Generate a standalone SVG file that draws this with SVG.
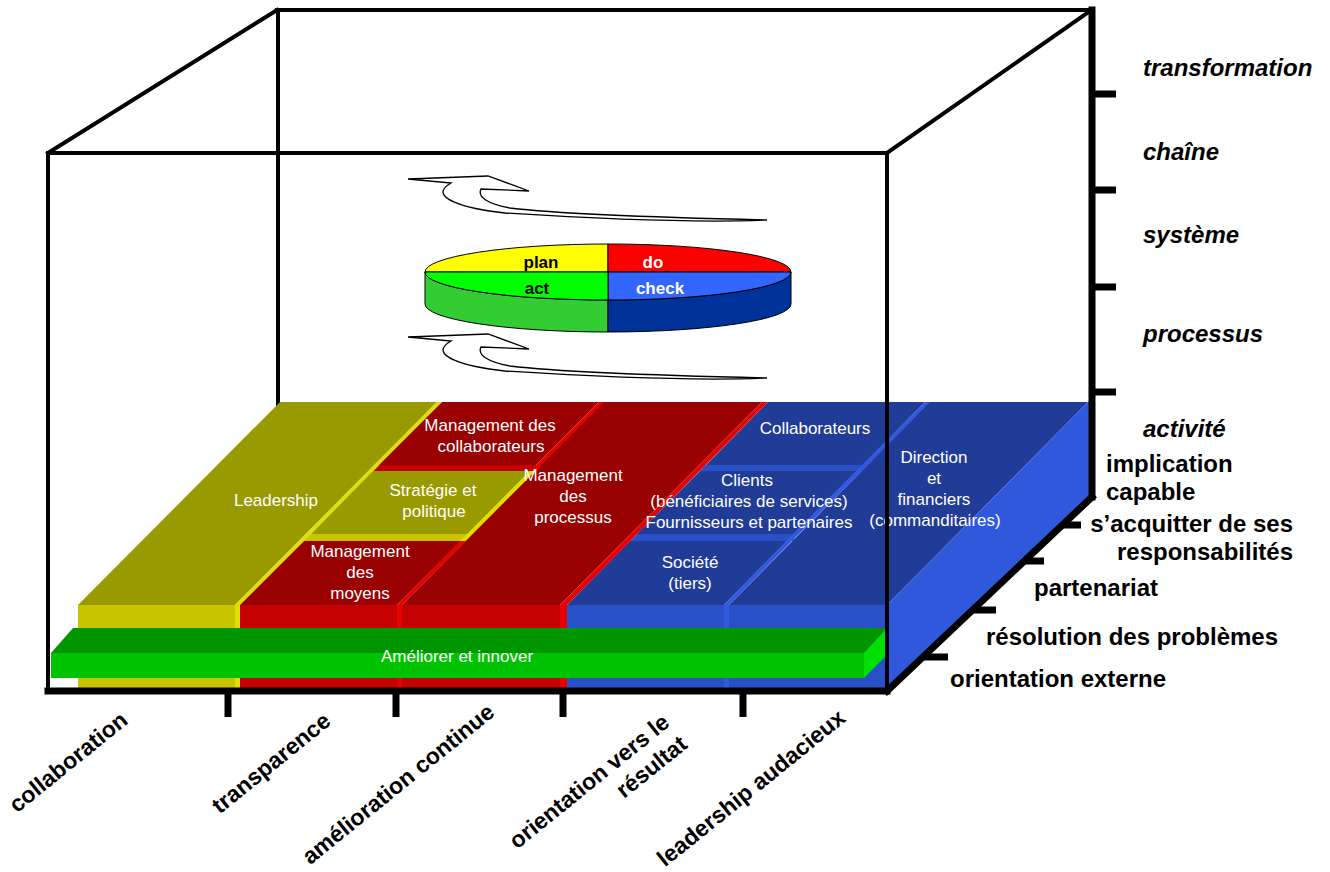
<svg xmlns="http://www.w3.org/2000/svg" width="1330" height="872" viewBox="0 0 1330 872">
<style>
.ln{stroke:#000;fill:none;stroke-linecap:square}
.ft{font-family:"Liberation Sans",Arial,sans-serif;font-size:17px;fill:#fff;text-anchor:middle}
.pt{font-family:"Liberation Sans",Arial,sans-serif;font-size:17px;font-weight:bold;text-anchor:middle}
.rl{font-family:"Liberation Sans",Arial,sans-serif;font-size:24px;font-weight:bold;fill:#000}
.it{font-style:italic}
.bl{font-family:"Liberation Sans",Arial,sans-serif;font-size:23px;font-weight:bold;fill:#000}
.oT{fill:#999900}.oF{fill:#C8C400}.oS{fill:#E0E000}
.rT{fill:#990000}.rF{fill:#C40000}.rS{fill:#E60000}
.bT{fill:#203C96}.bF{fill:#2A50C8}.bS{fill:#2F5BE0}
.sw{fill:#fff;stroke:#000;stroke-width:1.3}
.pie{stroke:#000;stroke-width:1}
</style>
<defs>
<path id="swirl" d="M408,179 L488,176 L529,191 L481,189 C477,197 488,204 510,208 C560,214 680,218 767,220 C700,223 600,219 505,213 C468,209 425,198 451,183 Z"/>
</defs>

<g id="box-back">
<line class="ln" x1="277" y1="10" x2="1092" y2="10" stroke-width="4"/>
<line class="ln" x1="278" y1="10" x2="278" y2="420" stroke-width="4"/>
<line class="ln" x1="48" y1="153" x2="277" y2="10" stroke-width="4"/>
<line class="ln" x1="887" y1="153" x2="1090" y2="11" stroke-width="4"/>
</g>

<g id="connectors">
<use href="#swirl" class="sw"/>
<use href="#swirl" class="sw" transform="translate(0,158)"/>
</g>

<g id="pdca">
<path class="pie" fill="#33CC33" d="M425,272 L425,304 A183,28 0 0 0 608,332 L608,300 A183,28 0 0 1 425,272 Z"/>
<path class="pie" fill="#003399" d="M791,272 L791,304 A183,28 0 0 1 608,332 L608,300 A183,28 0 0 0 791,272 Z"/>
<path class="pie" fill="#FFFF00" d="M608,272 L425,272 A183,28 0 0 1 608,244 Z"/>
<path class="pie" fill="#FF0000" d="M608,272 L608,244 A183,28 0 0 1 791,272 Z"/>
<path class="pie" fill="#3366FF" d="M608,272 L791,272 A183,28 0 0 1 608,300 Z"/>
<path class="pie" fill="#00FF00" d="M608,272 L608,300 A183,28 0 0 1 425,272 Z"/>
<text class="pt" x="541" y="268" fill="#000">plan</text>
<text class="pt" x="653" y="268" fill="#fff">do</text>
<text class="pt" x="537" y="294" fill="#000">act</text>
<text class="pt" x="660" y="294" fill="#fff">check</text>
</g>

<g id="leadership">
<polygon class="oT" points="280,402 437,402 235,605 78,605"/>
<polygon class="oS" points="437,402 442,402 240,605 235,605"/>
<rect class="oF" x="78" y="605" width="157" height="84"/>
<rect class="oS" x="235" y="605" width="5" height="84"/>
<text class="ft" x="276" y="506">Leadership</text>
</g>

<g id="mgmt-collaborateurs">
<polygon class="rT" points="442,402 599,402 536,465 379,465"/>
<polygon class="rF" points="379.3,465 536,465 536,471 373.3,471"/>
<polygon class="rS" points="599,402 605,402 536,471 530,471"/>
<text class="ft" x="490" y="431">Management des</text>
<text class="ft" x="491" y="452">collaborateurs</text>
</g>

<g id="strategie">
<polygon class="oT" points="373,471 530,471 468,534 311,534"/>
<polygon class="oF" points="310.7,534 468,534 468,541 303.7,541"/>
<polygon class="oS" points="530,471 536,471 466,541 460,541"/>
<text class="ft" x="433" y="496">Stratégie et</text>
<text class="ft" x="434" y="517">politique</text>
</g>

<g id="mgmt-moyens">
<polygon class="rT" points="304,541 461,541 397,605 240,605"/>
<polygon class="rS" points="460,541 466,541 402,605 397,605"/>
<rect class="rF" x="240" y="605" width="157" height="84"/>
<rect class="rS" x="397" y="605" width="5" height="84"/>
<text class="ft" x="360" y="557">Management</text>
<text class="ft" x="360" y="578">des</text>
<text class="ft" x="360" y="599">moyens</text>
</g>

<g id="collaborateurs">
<polygon class="bT" points="768,402 925,402 863,465 706,465"/>
<polygon class="bF" points="705.6,465 863,465 863,471 699.7,471"/>
<polygon class="bS" points="925,402 931,402 862,471 856,471"/>
<text class="ft" x="815" y="434">Collaborateurs</text>
</g>

<g id="societe">
<polygon class="bT" points="630,541 787,541 724,605 567,605"/>
<polygon class="bS" points="786,541 792,541 729,605 724,605"/>
<rect class="bF" x="567" y="605" width="157" height="84"/>
<rect class="bS" x="724" y="605" width="5" height="84"/>
<text class="ft" x="690" y="568">Société</text>
<text class="ft" x="690" y="589">(tiers)</text>
</g>

<g id="direction">
<polygon class="bT" points="930,402 1088,402 887,605 729,605"/>
<polygon fill="#3058DC" points="1088,402 1092,400 1092,497 887,691 887,605"/>
<rect class="bF" x="729" y="605" width="158" height="84"/>
<text class="ft" x="934" y="463">Direction</text>
<text class="ft" x="934" y="484">et</text>
<text class="ft" x="934" y="505">financiers</text>
<text class="ft" x="935" y="526">(commanditaires)</text>
</g>

<g id="mgmt-processus">
<polygon class="rT" points="604,402 762,402 560,605 402,605"/>
<polygon class="rS" points="762,402 768,402 567,605 560,605"/>
<rect class="rF" x="402" y="605" width="158" height="84"/>
<rect class="rS" x="560" y="605" width="7" height="84"/>
<text class="ft" x="573" y="481">Management</text>
<text class="ft" x="573" y="502">des</text>
<text class="ft" x="573" y="523">processus</text>
</g>

<g id="clients">
<polygon class="bT" points="700,471 857,471 794,534 637,534"/>
<polygon class="bF" points="637.3,534 794,534 794,541 630.4,541"/>
<polygon class="bS" points="856,471 862,471 792,541 786,541"/>
<text class="ft" x="747" y="486">Clients</text>
<text class="ft" x="749" y="507">(bénéficiaires de services)</text>
<text class="ft" x="749" y="528">Fournisseurs et partenaires</text>
</g>

<g id="ameliorer">
<polygon fill="#009600" points="73,628 887,628 864,653 51,653"/>
<rect fill="#00C300" x="51" y="653" width="813" height="25"/>
<polygon fill="#00E000" points="864,653 887,628 887,655 864,678"/>
<text class="ft" x="457" y="662">Améliorer et innover</text>
</g>

<g id="box-front">
<line class="ln" x1="48" y1="153" x2="887" y2="153" stroke-width="4"/>
<line class="ln" x1="48" y1="153" x2="48" y2="690" stroke-width="4"/>
<line class="ln" x1="887" y1="153" x2="887" y2="690" stroke-width="4"/>
<line class="ln" x1="1092" y1="10" x2="1092" y2="497" stroke-width="7"/>
<line class="ln" x1="48" y1="691" x2="887" y2="691" stroke-width="7"/>
<line class="ln" x1="887" y1="691" x2="1092" y2="497" stroke-width="7"/>
<g stroke="#000" stroke-width="7">
<line x1="1092" y1="94" x2="1116" y2="94"/>
<line x1="1092" y1="190" x2="1116" y2="190"/>
<line x1="1092" y1="287" x2="1116" y2="287"/>
<line x1="1092" y1="392" x2="1116" y2="392"/>
<line x1="1062" y1="525" x2="1081" y2="525"/>
<line x1="1024" y1="561" x2="1044" y2="561"/>
<line x1="973" y1="610" x2="996" y2="610"/>
<line x1="923" y1="657" x2="948" y2="657"/>
<line x1="228" y1="691" x2="228" y2="717"/>
<line x1="396" y1="691" x2="396" y2="717"/>
<line x1="563" y1="691" x2="563" y2="717"/>
<line x1="743" y1="691" x2="743" y2="717"/>
</g>
</g>

<g id="labels-right">
<text class="rl it" x="1143" y="76">transformation</text>
<text class="rl it" x="1143" y="160">chaîne</text>
<text class="rl it" x="1143" y="243">système</text>
<text class="rl it" x="1143" y="342">processus</text>
<text class="rl it" x="1143" y="437">activité</text>
<text class="rl" x="1106" y="472">implication</text>
<text class="rl" x="1106" y="500">capable</text>
<text class="rl" x="1293" y="532" text-anchor="end">s’acquitter de ses</text>
<text class="rl" x="1293" y="560" text-anchor="end">responsabilités</text>
<text class="rl" x="1034" y="596">partenariat</text>
<text class="rl" x="986" y="645">résolution des problèmes</text>
<text class="rl" x="950" y="687">orientation externe</text>
</g>

<g id="labels-bottom">
<text class="bl" text-anchor="middle" transform="translate(73,768) rotate(-39)">collaboration</text>
<text class="bl" text-anchor="middle" transform="translate(276,769) rotate(-39)">transparence</text>
<text class="bl" text-anchor="middle" transform="translate(403,790) rotate(-39)">amélioration continue</text>
<g transform="translate(671,725) rotate(-39)">
<text class="bl" text-anchor="end" x="0" y="0">orientation vers le</text>
<text class="bl" text-anchor="end" x="0" y="28">résultat</text>
</g>
<text class="bl" text-anchor="middle" transform="translate(756,794) rotate(-39)">leadership audacieux</text>
</g>
</svg>
